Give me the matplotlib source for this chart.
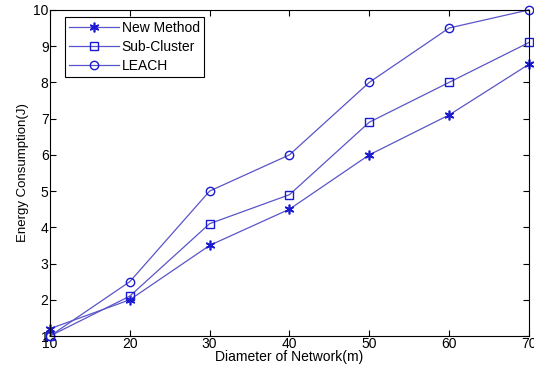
import matplotlib.pyplot as plt

plt.rcParams['font.family'] = ['Liberation Sans', 'DejaVu Sans']

# diameter of network (m)
diameter = [10, 20, 30, 40, 50, 60, 70]

# energy consumption (J) for each method
new_method = [1.2, 2.0, 3.5, 4.5, 6.0, 7.1, 8.5]
sub_cluster = [1.0, 2.1, 4.1, 4.9, 6.9, 8.0, 9.1]
leach = [1.0, 2.5, 5.0, 6.0, 8.0, 9.5, 10.0]

line_col = '#5a55c8'
mark_col = '#1a1ad0'

fig = plt.figure(figsize=(5.34, 3.74), dpi=100)
ax = fig.add_axes([0.0936, 0.1016, 0.897, 0.872])

ax.plot(diameter, new_method, color=line_col, lw=0.9, marker=(6, 2, 0), ms=7,
        mew=1.2, mec=mark_col, mfc=mark_col, label='New Method', clip_on=False)
ax.plot(diameter, sub_cluster, color=line_col, lw=0.9, marker='s', ms=6,
        mec=mark_col, mfc='none', label='Sub-Cluster', clip_on=False)
ax.plot(diameter, leach, color=line_col, lw=0.9, marker='o', ms=6,
        mec=mark_col, mfc='none', label='LEACH', clip_on=False)

ax.set_xlim(10, 70)
ax.set_ylim(1, 10)
ax.set_xticks(diameter)
ax.set_yticks(range(1, 11))
ax.tick_params(direction='in', top=True, right=True, labelsize=10, length=4, pad=1)
for s in ax.spines.values():
    s.set_linewidth(0.8)

ax.set_xlabel('Diameter of Network(m)', fontsize=10, labelpad=-1)
ax.set_ylabel('Energy Consumption(J)', fontsize=9.5, labelpad=3)

leg = ax.legend(loc='upper left', bbox_to_anchor=(0.031, 0.979), fontsize=10,
                fancybox=False, edgecolor='black', framealpha=1,
                borderaxespad=0, handlelength=3.6,
                labelspacing=0.35, borderpad=0.3, handletextpad=0.2)
leg.get_frame().set_linewidth(0.8)

fig.savefig('out.png', dpi=100)
